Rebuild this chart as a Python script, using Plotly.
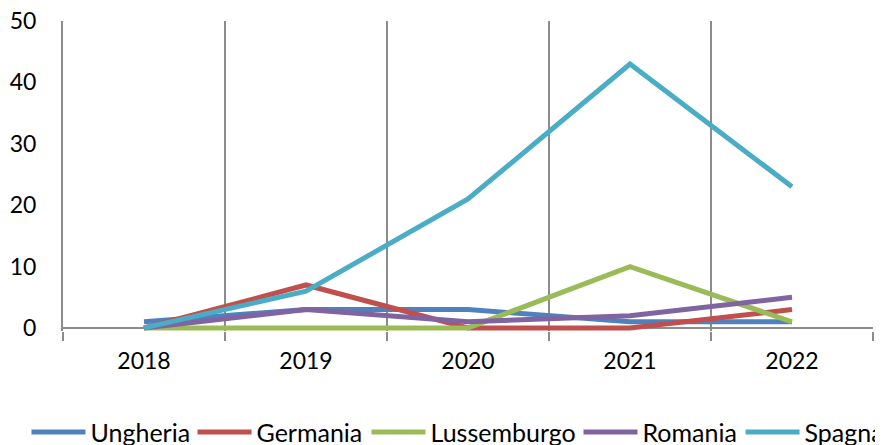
import plotly.graph_objects as go

years = ["2018", "2019", "2020", "2021", "2022"]
ungheria = [1, 3, 3, 1, 1]
germania = [0, 7, 0, 0, 3]
lussemburgo = [0, 0, 0, 10, 1]
romania = [0, 3, 1, 2, 5]
spagna = [0, 6, 21, 43, 23]

series = [
    ("Ungheria", ungheria, "#4F81BD"),
    ("Germania", germania, "#C0504D"),
    ("Lussemburgo", lussemburgo, "#9BBB59"),
    ("Romania", romania, "#8064A2"),
    ("Spagna", spagna, "#4BACC6"),
]
# horizontal placement of each legend entry (paper fraction)
legend_x = [-0.0451, 0.1599, 0.3747, 0.6364, 0.8365]

fig = go.Figure()
legend_ids = ["legend", "legend2", "legend3", "legend4", "legend5"]
for (name, vals, col), lid in zip(series, legend_ids):
    fig.add_trace(go.Scatter(x=years, y=vals, name=name, mode="lines",
                             line=dict(color=col, width=5), legend=lid))

font = "Lato, 'Open Sans', sans-serif"
fig.update_layout(
    width=883, height=445,
    margin=dict(l=55, r=18, t=13, b=122, autoexpand=False),
    paper_bgcolor="white", plot_bgcolor="white",
    font=dict(family=font, size=23, color="black"),
    showlegend=True,
    xaxis=dict(type="category", range=[-0.5, 4.5], showgrid=True, gridcolor="#8C8C8C",
               gridwidth=2, tickson="boundaries", ticks="outside", ticklen=9,
               tickcolor="#8C8C8C", tickwidth=2, showline=False, automargin=False,
               ticklabelstandoff=14, zeroline=False),
    yaxis=dict(range=[-0.5, 50], dtick=10, showgrid=False, showline=True,
               linecolor="#8C8C8C", linewidth=2, zeroline=True, zerolinecolor="#8C8C8C",
               zerolinewidth=2, ticks="", ticklabelstandoff=20, automargin=False,
               ticklabeloverflow="allow"),
)
for lid, lx in zip(legend_ids, legend_x):
    fig.update_layout({lid: dict(orientation="h", x=lx, xanchor="left", y=-0.327,
                                 yanchor="middle", font=dict(size=25), itemwidth=54,
                                 bgcolor="rgba(0,0,0,0)")})

fig.write_html("out.html")
